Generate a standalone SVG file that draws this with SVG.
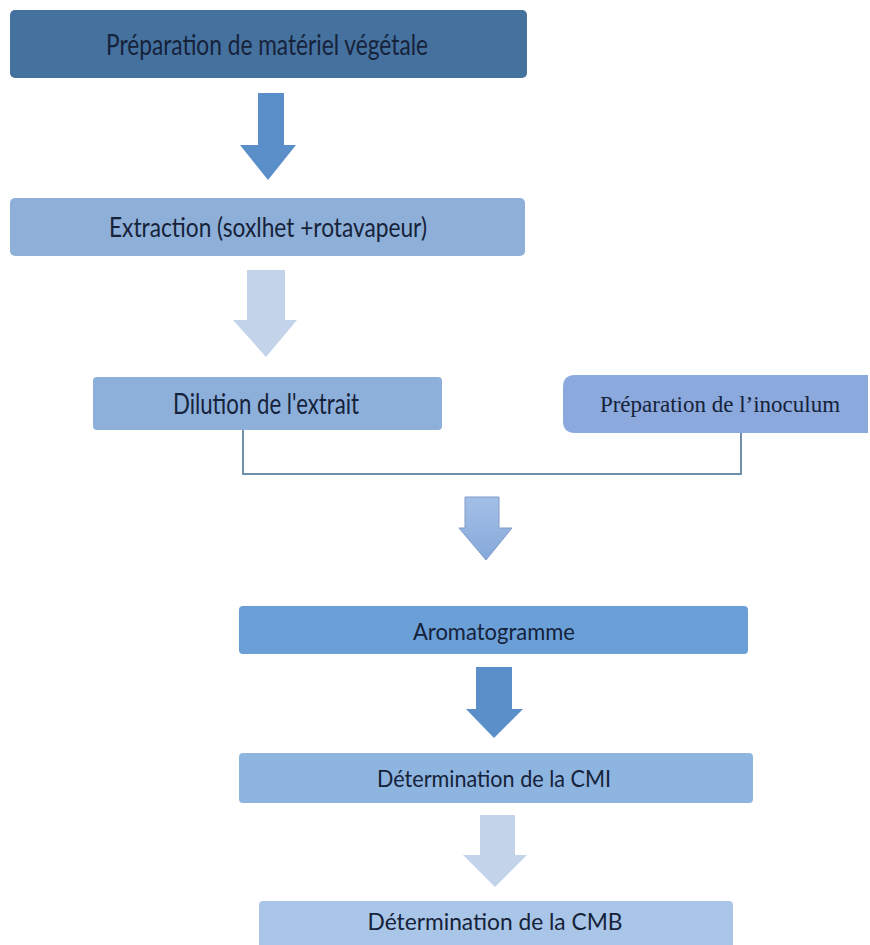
<svg xmlns="http://www.w3.org/2000/svg" width="870" height="945" viewBox="0 0 870 945">
<style>
.lbl{font-family:Lato,"Open Sans","Liberation Sans",sans-serif;fill:#16223a;text-anchor:middle;}
.ser{font-family:"Liberation Serif","DejaVu Serif",serif;fill:#16223a;text-anchor:middle;}
.conn{fill:none;stroke:#6f8eab;stroke-width:2;}
</style>
<defs>
<linearGradient id="g3" x1="0" y1="0" x2="0" y2="1">
<stop offset="0" stop-color="#a3bfe6"/>
<stop offset="1" stop-color="#86a9db"/>
</linearGradient>
</defs>
<rect width="870" height="945" fill="#ffffff"/>

<g id="n1">
<rect x="10" y="10" width="517" height="68" rx="5" fill="#45719f"/>
<text class="lbl" x="267" y="55" font-size="28" textLength="322" lengthAdjust="spacingAndGlyphs">Préparation de matériel végétale</text>
</g>
<g id="n2">
<rect x="10" y="198" width="515" height="58" rx="5" fill="#8eb0d8"/>
<text class="lbl" x="268" y="237" font-size="27" textLength="318" lengthAdjust="spacingAndGlyphs">Extraction (soxlhet +rotavapeur)</text>
</g>
<g id="n3">
<rect x="93" y="377" width="349" height="53" rx="4" fill="#8cb0da"/>
<text class="lbl" x="266" y="414" font-size="28" textLength="186" lengthAdjust="spacingAndGlyphs">Dilution de l'extrait</text>
</g>
<g id="n4">
<path d="M575,375 H868 V433 H575 Q563,433 563,421 V387 Q563,375 575,375 Z" fill="#8ba9dc"/>
<text class="ser" x="720" y="412" font-size="23">Préparation de l’inoculum</text>
</g>
<g id="n5">
<rect x="239" y="606" width="509" height="48" rx="4" fill="#6aa0d7"/>
<text class="lbl" x="494" y="640" font-size="23" textLength="162" lengthAdjust="spacingAndGlyphs">Aromatogramme</text>
</g>
<g id="n6">
<rect x="239" y="753" width="514" height="50" rx="4" fill="#8db5e0"/>
<text class="lbl" x="494" y="787" font-size="23" textLength="234" lengthAdjust="spacingAndGlyphs">Détermination de la CMI</text>
</g>
<g id="n7">
<rect x="259" y="901" width="474" height="50" rx="4" fill="#a9c6e8"/>
<text class="lbl" x="495" y="930" font-size="23" textLength="255" lengthAdjust="spacingAndGlyphs">Détermination de la CMB</text>
</g>

<g id="connectors">
<polygon points="258,93 284,93 284,145 296,145 268,180 240,145 258,145" fill="#5a8fca"/>
<polygon points="247,270 285,270 285,320 297,320 266,357 233,320 247,320" fill="#c3d4ea"/>
<path class="conn" d="M243,430 V474 H741 V433"/>
<polygon points="465,497 499,497 499,528 512,528 486,560 459,528 465,528" fill="url(#g3)" stroke="#7f9cc4" stroke-width="1"/>
<polygon points="476,667 512,667 512,709 523,709 494,738 466,709 476,709" fill="#5a8fca"/>
<polygon points="480,815 515,815 515,855 527,855 495,887 463,855 480,855" fill="#c3d4ea"/>
</g>
</svg>
